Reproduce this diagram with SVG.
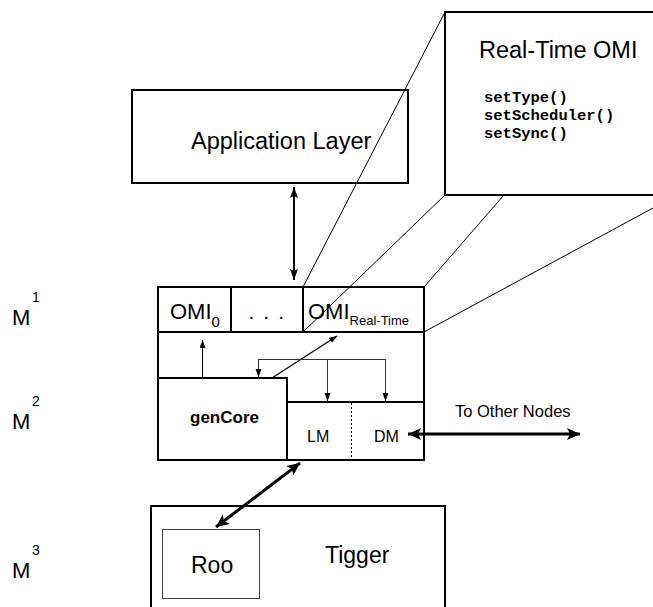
<svg xmlns="http://www.w3.org/2000/svg" width="653" height="607" viewBox="0 0 653 607">
<defs>
<style>
.box{fill:#fff;stroke:#000;stroke-width:2}
.line{fill:none;stroke:#000;stroke-width:1}
.sans{font-family:"Liberation Sans",Arial,sans-serif;fill:#000}
.mono{font-family:"Liberation Mono","Courier New",monospace;font-weight:bold;fill:#000}
</style>
<marker id="big" markerUnits="userSpaceOnUse" markerWidth="14" markerHeight="12" refX="13" refY="6" orient="auto-start-reverse"><path d="M0,0 L13,6 L0,12 L3,6 Z" fill="#000"/></marker>
<marker id="med" markerUnits="userSpaceOnUse" markerWidth="12" markerHeight="10" refX="11" refY="4" orient="auto-start-reverse"><path d="M0,0 L11,4 L0,8 L2,4 Z" fill="#000"/></marker>
<marker id="small" markerUnits="userSpaceOnUse" markerWidth="9" markerHeight="8" refX="8" refY="3" orient="auto"><path d="M0,0 L8,3 L0,6 Z" fill="#000"/></marker>
</defs>

<g id="m-labels" class="sans">
<text x="12" y="325" font-size="22">M</text><text x="32" y="302" font-size="14">1</text>
<text x="12" y="429" font-size="22">M</text><text x="32" y="406" font-size="14">2</text>
<text x="12" y="578" font-size="22">M</text><text x="32" y="555" font-size="14">3</text>
</g>

<g id="app-layer">
<rect class="box" x="132" y="90" width="276" height="93"/>
<text class="sans" x="191" y="149" font-size="23.5">Application Layer</text>
</g>

<g id="rt-omi">
<rect class="box" x="445" y="12" width="240" height="183"/>
<text class="sans" x="479" y="58" font-size="23.5">Real-Time OMI</text>
<text class="mono" x="484" y="102" font-size="15.5">setType()</text>
<text class="mono" x="484" y="120" font-size="15.5">setScheduler()</text>
<text class="mono" x="484" y="138" font-size="15.5">setSync()</text>
</g>

<g id="middleware">
<rect class="box" x="158" y="287" width="266" height="173"/>
<line x1="158" y1="332" x2="424" y2="332" stroke="#000" stroke-width="2"/>
<line x1="231" y1="287" x2="231" y2="332" stroke="#000" stroke-width="2"/>
<line x1="303" y1="287" x2="303" y2="332" stroke="#000" stroke-width="2"/>
</g>

<g id="omi0">
<text class="sans" x="170" y="319" font-size="22">OMI<tspan font-size="15" dy="8">0</tspan></text>
</g>
<g id="omi-dots">
<text class="sans" x="267" y="319" font-size="21" text-anchor="middle" letter-spacing="1.6">. . .</text>
</g>
<g id="omi-rt">
<text class="sans" x="308" y="319" font-size="22">OMI<tspan font-size="13" dy="6">Real-Time</tspan></text>
</g>

<g id="gencore">
<rect class="box" x="158" y="378" width="129" height="82"/>
<text class="sans" x="190" y="423" font-size="17" font-weight="bold">genCore</text>
</g>

<g id="lm-dm">
<rect class="box" x="287" y="402" width="137" height="58"/>
<line x1="351.5" y1="403" x2="351.5" y2="459" stroke="#000" stroke-width="1" stroke-dasharray="2,2"/>
<text class="sans" x="307" y="442" font-size="16">LM</text>
<text class="sans" x="374" y="442" font-size="16">DM</text>
</g>

<g id="to-other-nodes">
<text class="sans" x="455" y="417" font-size="16.5">To Other Nodes</text>
</g>

<g id="tigger">
<rect class="box" x="151" y="506" width="294" height="120"/>
<text class="sans" x="325" y="563" font-size="23">Tigger</text>
</g>

<g id="roo">
<rect x="162.5" y="529.5" width="97" height="69" fill="#fff" stroke="#444" stroke-width="1"/>
<text class="sans" x="191" y="573" font-size="23">Roo</text>
</g>

<g id="connectors">
<line class="line" x1="445" y1="12" x2="303" y2="287"/>
<line class="line" x1="445" y1="195" x2="303" y2="332"/>
<line class="line" x1="504" y1="195" x2="424" y2="287"/>
<line class="line" x1="677" y1="195" x2="424" y2="332"/>
<line x1="294" y1="187" x2="294" y2="280" stroke="#000" stroke-width="2" marker-start="url(#med)" marker-end="url(#med)"/>
<line x1="202.5" y1="378" x2="202.5" y2="340" stroke="#000" stroke-width="1" marker-end="url(#small)"/>
<line x1="272" y1="378" x2="337" y2="336" stroke="#000" stroke-width="1.3" marker-end="url(#small)"/>
<line x1="258" y1="359.5" x2="386" y2="359.5" stroke="#333" stroke-width="1"/>
<line x1="258.5" y1="359" x2="258.5" y2="377" stroke="#333" stroke-width="1" marker-end="url(#small)"/>
<line x1="327.5" y1="359" x2="327.5" y2="401" stroke="#333" stroke-width="1" marker-end="url(#small)"/>
<line x1="385.5" y1="359" x2="385.5" y2="401" stroke="#333" stroke-width="1" marker-end="url(#small)"/>
<line x1="408" y1="434" x2="580" y2="434" stroke="#000" stroke-width="3" marker-start="url(#big)" marker-end="url(#big)"/>
<line x1="300" y1="463" x2="216" y2="527" stroke="#000" stroke-width="3" marker-start="url(#big)" marker-end="url(#big)"/>
</g>
</svg>
